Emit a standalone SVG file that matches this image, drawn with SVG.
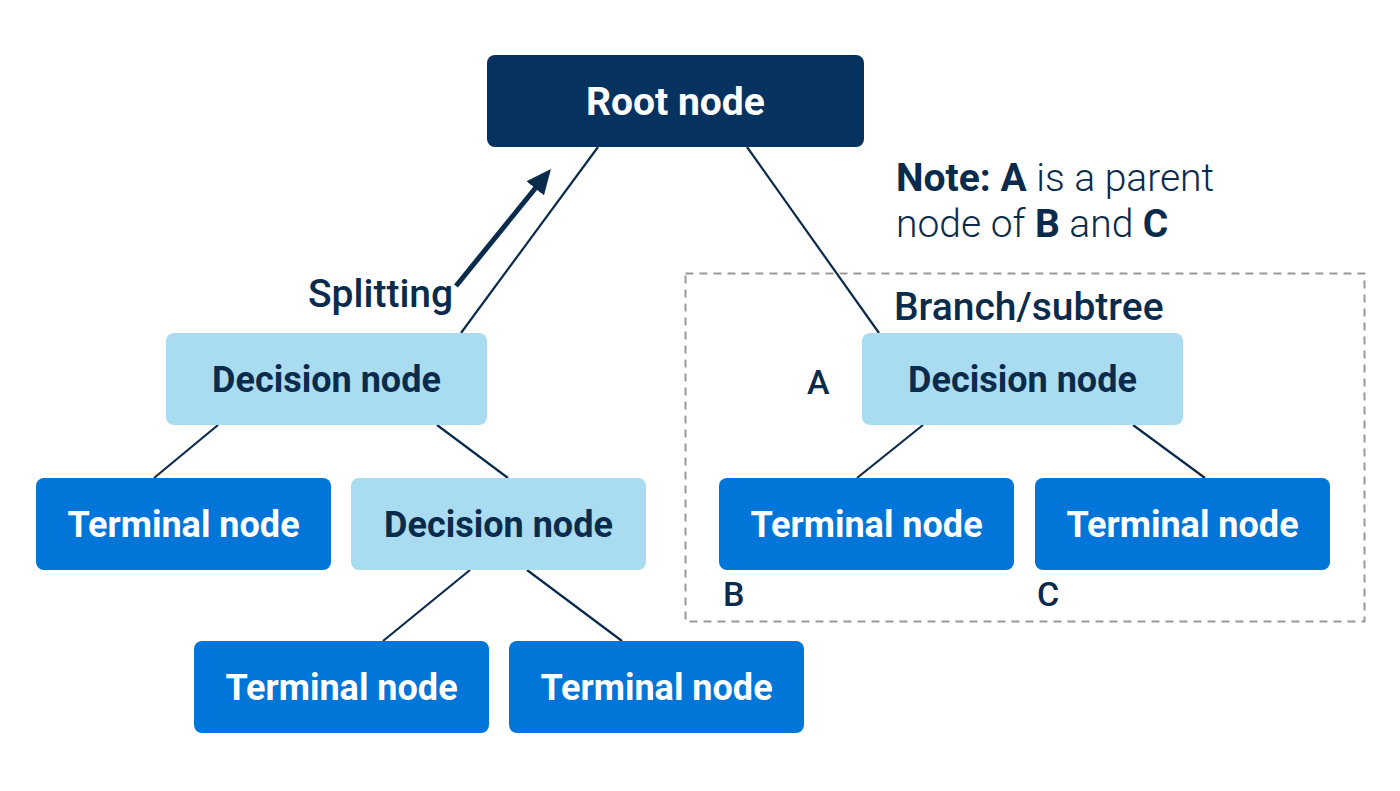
<svg xmlns="http://www.w3.org/2000/svg" width="1400" height="791" viewBox="0 0 1400 791">
<style>
.root{fill:#05325e}
.dec{fill:#aadcf1}
.term{fill:#0275d8}
.lbl{font-family:Roboto,"Liberation Sans",sans-serif;font-weight:700;font-size:36px;text-anchor:middle}
.w{fill:#ffffff}
.d{fill:#0a2b4b}
.txt{font-family:Roboto,"Liberation Sans",sans-serif;fill:#0a2b4b;font-size:39px}
.conn line{stroke:#0a2b4b;stroke-width:2.2}
</style>
<defs>
<marker id="ah" viewBox="0 0 10 10" refX="4" refY="5" markerWidth="5" markerHeight="5" orient="auto" markerUnits="strokeWidth">
<path d="M0,0.5 L10,5 L0,9.5 z" fill="#0a2b4b"/>
</marker>
</defs>
<rect width="1400" height="791" fill="#ffffff"/>
<rect x="685.5" y="273.5" width="679" height="348" fill="none" stroke="#999999" stroke-width="2" stroke-dasharray="8,6"/>
<g class="conn" id="connectors">
<line x1="598" y1="147" x2="461" y2="333"/>
<line x1="747" y1="147" x2="879" y2="333"/>
<line x1="218" y1="425" x2="154" y2="478"/>
<line x1="437" y1="425" x2="508" y2="478"/>
<line x1="470" y1="570" x2="383" y2="641"/>
<line x1="527" y1="570" x2="622" y2="641"/>
<line x1="923" y1="425" x2="857" y2="478"/>
<line x1="1133" y1="425" x2="1205" y2="478"/>
<line x1="456" y1="286" x2="541.5" y2="180.6" style="stroke-width:5" marker-end="url(#ah)"/>
</g>
<g id="root"><rect class="root" x="487" y="55" width="377" height="92" rx="8"/><text class="lbl w" x="675.5" y="115" style="font-size:39px">Root node</text></g>
<g id="dec1"><rect class="dec" x="166" y="333" width="321" height="92" rx="8"/><text class="lbl d" x="326.5" y="392">Decision node</text></g>
<g id="dec2"><rect class="dec" x="351" y="478" width="295" height="92" rx="8"/><text class="lbl d" x="498.5" y="537">Decision node</text></g>
<g id="dec3"><rect class="dec" x="862" y="333" width="321" height="92" rx="8"/><text class="lbl d" x="1022.5" y="392">Decision node</text></g>
<g id="term1"><rect class="term" x="36" y="478" width="295" height="92" rx="8"/><text class="lbl w" x="183.5" y="537">Terminal node</text></g>
<g id="term2"><rect class="term" x="194" y="641" width="295" height="92" rx="8"/><text class="lbl w" x="341.5" y="700">Terminal node</text></g>
<g id="term3"><rect class="term" x="509" y="641" width="295" height="92" rx="8"/><text class="lbl w" x="656.5" y="700">Terminal node</text></g>
<g id="term4"><rect class="term" x="719" y="478" width="295" height="92" rx="8"/><text class="lbl w" x="866.5" y="537">Terminal node</text></g>
<g id="term5"><rect class="term" x="1035" y="478" width="295" height="92" rx="8"/><text class="lbl w" x="1182.5" y="537">Terminal node</text></g>
<text class="txt" x="308" y="307" style="font-weight:500">Splitting</text>
<text class="txt" x="894" y="320" style="font-weight:500">Branch/subtree</text>
<text class="txt" x="807" y="394" style="font-weight:500;font-size:34px">A</text>
<text class="txt" x="723" y="606" style="font-weight:500;font-size:34px">B</text>
<text class="txt" x="1037" y="606" style="font-weight:500;font-size:34px">C</text>
<text class="txt" x="896" y="191" style="font-weight:300"><tspan font-weight="700">Note: A</tspan> is a parent</text>
<text class="txt" x="896" y="237" style="font-weight:300">node of <tspan font-weight="700">B</tspan> and <tspan font-weight="700">C</tspan></text>
</svg>
